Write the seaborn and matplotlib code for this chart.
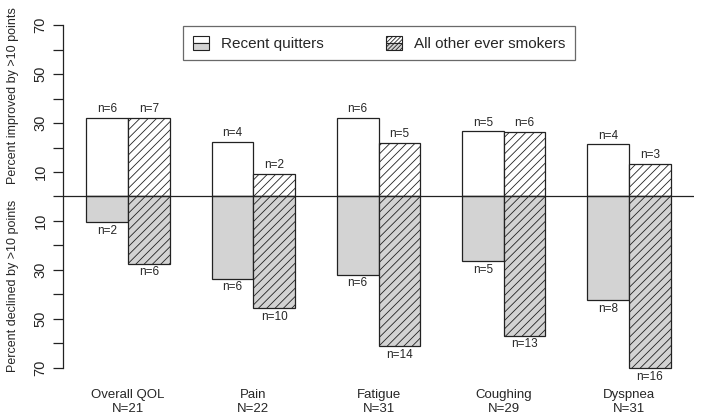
import pandas as pd
import seaborn as sns
import matplotlib.pyplot as plt
from matplotlib.patches import Rectangle
from matplotlib.legend_handler import HandlerBase

# Values (percent of each group)
categories = ["Overall QOL", "Pain", "Fatigue", "Coughing", "Dyspnea"]
totals = ["N=21", "N=22", "N=31", "N=29", "N=31"]
groups = ["Recent quitters", "All other ever smokers"]

recent_improved = [32, 22.4, 32, 26.6, 21.3]
other_improved = [32, 9.3, 22, 26.3, 13.3]
recent_declined = [10.5, 33.5, 31.9, 26.3, 42.2]
other_declined = [27.4, 45.6, 61, 56.8, 69.9]

n_recent_improved = ["n=6", "n=4", "n=6", "n=5", "n=4"]
n_other_improved = ["n=7", "n=2", "n=5", "n=6", "n=3"]
n_recent_declined = ["n=2", "n=6", "n=6", "n=5", "n=8"]
n_other_declined = ["n=6", "n=10", "n=14", "n=13", "n=16"]

grey = "#d3d3d3"

improved = pd.DataFrame({
    "category": categories * 2,
    "group": [groups[0]] * 5 + [groups[1]] * 5,
    "value": recent_improved + other_improved,
})
declined = pd.DataFrame({
    "category": categories * 2,
    "group": [groups[0]] * 5 + [groups[1]] * 5,
    "value": [-v for v in recent_declined + other_declined],
})

sns.set_style("white")
plt.rcParams["font.family"] = ["Liberation Sans", "DejaVu Sans"]
plt.rcParams["hatch.linewidth"] = 0.6

fig = plt.figure(figsize=(7.01, 4.19), dpi=100)
ax = fig.add_axes([63 / 701, 1 - 381.7 / 419, (694 - 63) / 701, (381.7 - 11.3) / 419])

for df in (improved, declined):
    sns.barplot(data=df, x="category", y="value", hue="group", hue_order=groups,
                order=categories, width=2 / 3, dodge=True, gap=0, legend=False,
                errorbar=None, ax=ax)

styles = [("white", ""), ("white", "////"), (grey, ""), (grey, "////")]
labels = [n_recent_improved, n_other_improved, n_recent_declined, n_other_declined]
for cont, (fc, hatch), lab in zip(ax.containers, styles, labels):
    for bar in cont:
        bar.set_facecolor(fc)
        bar.set_edgecolor("#222222")
        bar.set_linewidth(0.9)
        bar.set_hatch(hatch)
    ax.bar_label(cont, labels=lab, padding=2, fontsize=8.5)

ax.axhline(0, color="#222222", lw=0.9)

ax.set_xlim(-0.52, 4.52)
ax.set_ylim(-75.6, 75.6)
ax.set_xlabel("")
ax.set_ylabel("")
ax.set_xticks(range(5))
ax.set_xticklabels([f"{c}\n{t}" for c, t in zip(categories, totals)],
                   fontsize=9.5, linespacing=1.3)
ax.tick_params(axis="x", length=0, pad=5)

major = [-70, -50, -30, -10, 10, 30, 50, 70]
ax.set_yticks(major)
ax.set_yticklabels([str(abs(v)) for v in major], rotation=90, va="center", fontsize=10.5)
ax.set_yticks(list(range(-60, 61, 20)), minor=True)
ax.tick_params(axis="y", which="both", length=7, width=0.9, color="#222222", pad=4, left=True)

for side in ("top", "right", "bottom"):
    ax.spines[side].set_visible(False)
ax.spines["left"].set_bounds(-70, 70)
ax.spines["left"].set_color("#222222")
ax.spines["left"].set_linewidth(0.9)

fig.text(13 / 701, 1 - 96 / 419, "Percent improved by >10 points",
         rotation=90, ha="center", va="center", fontsize=9)
fig.text(13 / 701, 1 - 286 / 419, "Percent declined by >10 points",
         rotation=90, ha="center", va="center", fontsize=9)


class TwoTone:
    def __init__(self, hatch):
        self.hatch = hatch


class TwoToneHandler(HandlerBase):
    def create_artists(self, legend, orig, xd, yd, w, h, fs, trans):
        top = Rectangle((-xd, -yd + h / 2), w, h / 2, facecolor="white",
                        edgecolor="#222222", lw=0.8, hatch=orig.hatch, transform=trans)
        bot = Rectangle((-xd, -yd), w, h / 2, facecolor=grey,
                        edgecolor="#222222", lw=0.8, hatch=orig.hatch, transform=trans)
        return [top, bot]


handles = [TwoTone(""), TwoTone("////////")]
leg = fig.legend(handles, groups, handler_map={TwoTone: TwoToneHandler()},
                 loc="center", bbox_to_anchor=(379.2 / 701, 1 - 43.3 / 419),
                 ncol=2, fontsize=11, frameon=True, fancybox=False,
                 handlelength=1.05, handleheight=1.05, handletextpad=0.8,
                 columnspacing=4.1, borderpad=0.6)
leg.get_frame().set_edgecolor("#444444")
leg.get_frame().set_linewidth(0.9)

fig.savefig("out.png", dpi=100)
